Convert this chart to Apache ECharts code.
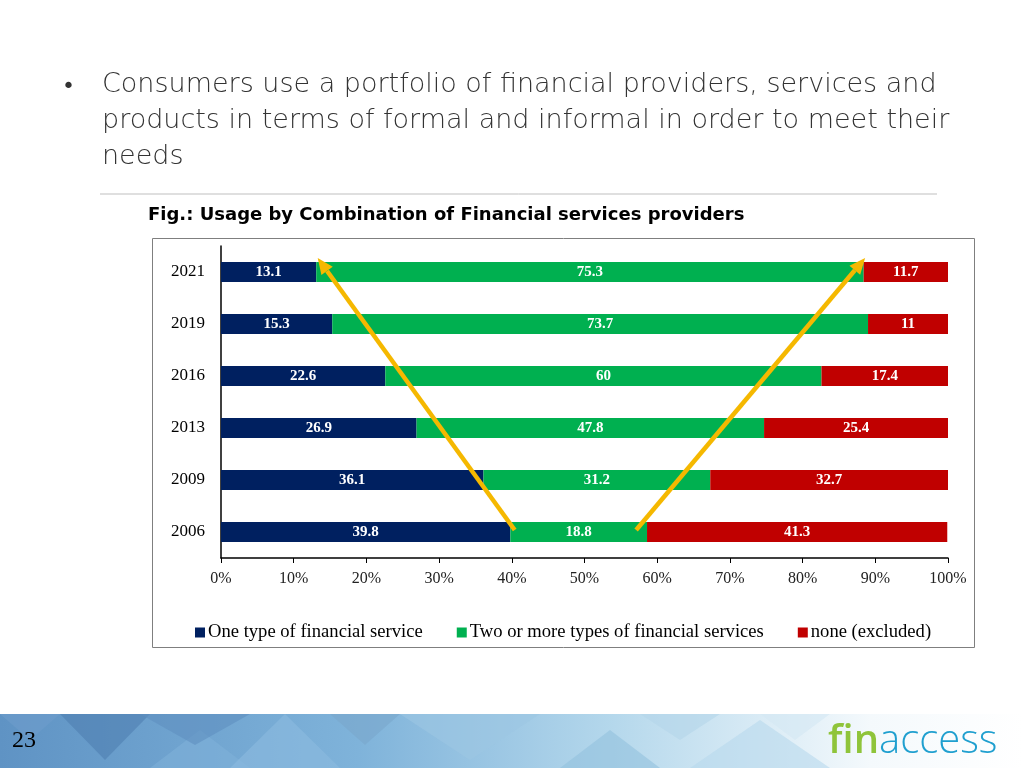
<!DOCTYPE html>
<html>
<head>
<meta charset="utf-8">
<script src="https://cdn.jsdelivr.net/npm/echarts@6/dist/echarts.min.js"></script>
<style>
html,body{margin:0;padding:0;background:#fff;}
#chart{width:1024px;height:768px;}
</style>
</head>
<body>
<div id="chart"></div>
<script>
// ---- data ----
const years = ['2006', '2009', '2013', '2016', '2019', '2021'];
const oneType = [39.8, 36.1, 26.9, 22.6, 15.3, 13.1];
const twoOrMore = [18.8, 31.2, 47.8, 60, 73.7, 75.3];
const noneExcluded = [41.3, 32.7, 25.4, 17.4, 11, 11.7];
const seriesNames = ['One type of financial service', 'Two or more types of financial services', 'none (excluded)'];
const xTicks = [0, 10, 20, 30, 40, 50, 60, 70, 80, 90, 100];
// arrow annotations: [x value, category] from -> to
const arrowFrom = [[40.4, '2006'], [57.1, '2006']];
const arrowTo = [[13.3, '2021'], [88.6, '2021']];

const bulletText = 'Consumers use a portfolio of financial providers, services and\nproducts in terms of formal and informal in order to meet their\nneeds';
const caption = 'Fig.: Usage by Combination of Financial services providers';

const colors = ['#002060', '#00B050', '#C00000'];
const serif = '"Liberation Serif", "Times New Roman", serif';
const gothic = '"DejaVu Sans", sans-serif';

const chart = echarts.init(document.getElementById('chart'), null, {renderer: 'canvas'});

function barSeries(name, data, color) {
  return {
    name: name, type: 'bar', stack: 'total', data: data, barWidth: 20,
    itemStyle: {color: color},
    label: {show: true, position: 'inside', color: '#fff', fontFamily: serif,
      fontSize: 15, fontWeight: 'bold'}
  };
}

// footer decorations
const footerTop = 714, footerBot = 768;
const diamonds = [
  {pts: [[0,714],[60,714],[30,740]], c: '#6e9ccb'},
  {pts: [[60,714],[150,714],[105,760]], c: '#4f7fb0'},
  {pts: [[150,768],[200,730],[250,768]], c: '#7fb1d8'},
  {pts: [[140,714],[250,714],[195,745]], c: '#5f90c0'},
  {pts: [[230,768],[285,714],[340,768]], c: '#8cbbe0'},
  {pts: [[330,714],[400,714],[365,745]], c: '#7aa6cc'},
  {pts: [[400,714],[470,760],[540,714]], c: '#9cc7e3'},
  {pts: [[560,768],[610,730],[660,768]], c: '#93c1de'},
  {pts: [[640,714],[720,714],[680,740]], c: '#b4d6ea'},
  {pts: [[690,768],[760,720],[830,768]], c: '#b8d9ec'},
  {pts: [[760,714],[830,714],[795,740]], c: '#d4e8f3'}
];
const footerGraphics = [
  {type: 'rect', shape: {x: 0, y: footerTop, width: 1024, height: footerBot - footerTop}, silent: true,
   style: {fill: new echarts.graphic.LinearGradient(0, 0, 1, 0, [
     {offset: 0, color: '#5f93c4'}, {offset: 0.35, color: '#7fb3da'},
     {offset: 0.6, color: '#b5d8ec'}, {offset: 0.85, color: '#f4f9fc'}, {offset: 1, color: '#ffffff'}])}}
].concat(diamonds.map(d => ({type: 'polygon', shape: {points: d.pts}, silent: true,
  style: {fill: d.c, opacity: 0.6}})));

const staticGraphics = [
  {type: 'text', left: 62, top: 76, style: {text: '•', fontSize: 22, fill: '#333', fontFamily: gothic}},
  {type: 'text', left: 102, top: 67, style: {text: bulletText, fontSize: 27, lineHeight: 36,
    fill: '#333', fontFamily: gothic, fontWeight: 200}},
  {type: 'line', shape: {x1: 100, y1: 194, x2: 937, y2: 194}, style: {stroke: '#bfbfbf', lineWidth: 1}},
  {type: 'rect', shape: {x: 152.5, y: 238.5, width: 822, height: 409}, z: -1,
   style: {fill: '#fff', stroke: '#7f7f7f', lineWidth: 1}},
  {type: 'text', left: 12, top: 729, style: {text: '23', fontSize: 24, fill: '#000', fontFamily: serif}},
  {type: 'text', left: 828, top: 722, style: {
    rich: {a: {fontSize: 40, fontWeight: 600, fill: '#8fc43a', fontFamily: '"Open Sans", sans-serif'},
           b: {fontSize: 40, fill: '#1f9fcf', fontFamily: '"Open Sans", sans-serif', fontWeight: 300}},
    text: '{a|fin}{b|access}'}}
];

const option = {
  animation: false,
  backgroundColor: '#fff',
  title: {text: caption, left: 143, top: 201,
    textStyle: {fontSize: 18, fontWeight: 'bold', color: '#000', fontFamily: gothic}},
  legend: {data: seriesNames, left: 190, top: 618, icon: 'rect', itemWidth: 10, itemHeight: 10, itemGap: 34,
    textStyle: {fontFamily: serif, fontSize: 18.6, color: '#000', padding: [0, 0, 0, -2]}},
  grid: {left: 221, right: 76, top: 246, bottom: 210, containLabel: false},
  xAxis: {type: 'value', min: xTicks[0], max: xTicks[xTicks.length - 1], interval: xTicks[1] - xTicks[0],
    axisLine: {show: true, lineStyle: {color: '#000', width: 1.5}},
    axisTick: {show: true, length: 5, lineStyle: {color: '#000'}},
    splitLine: {show: false},
    axisLabel: {formatter: '{value}%', fontFamily: serif, fontSize: 16, color: '#222', margin: 13}},
  yAxis: {type: 'category', data: years,
    axisLine: {show: true, lineStyle: {color: '#000', width: 1.5}},
    axisTick: {show: false},
    axisLabel: {fontFamily: serif, fontSize: 17, color: '#000', margin: 16}},
  series: [
    barSeries(seriesNames[0], oneType, colors[0]),
    barSeries(seriesNames[1], twoOrMore, colors[1]),
    barSeries(seriesNames[2], noneExcluded, colors[2])
  ],
  graphic: footerGraphics.concat(staticGraphics)
};
chart.setOption(option);

// arrows computed through the chart's own scales
const arrowColor = '#F5B800';
const arrowGraphics = [];
const tipOffset = -14; // tip sits above the top bar
for (let i = 0; i < arrowFrom.length; i++) {
  const p0 = chart.convertToPixel({gridIndex: 0}, [arrowFrom[i][0], years.indexOf(arrowFrom[i][1])]);
  const p1 = chart.convertToPixel({gridIndex: 0}, [arrowTo[i][0], years.indexOf(arrowTo[i][1])]);
  p0[1] -= 2; p1[1] += tipOffset;
  const dx = p1[0] - p0[0], dy = p1[1] - p0[1];
  const len = Math.sqrt(dx * dx + dy * dy);
  const ux = dx / len, uy = dy / len;
  const headLen = 16, headW = 7;
  const bx = p1[0] - ux * headLen, by = p1[1] - uy * headLen;
  arrowGraphics.push({type: 'line', z: 100, shape: {x1: p0[0], y1: p0[1], x2: bx, y2: by},
    style: {stroke: arrowColor, lineWidth: 4.5}});
  arrowGraphics.push({type: 'polygon', z: 100, shape: {points: [
    [p1[0], p1[1]], [bx - uy * headW, by + ux * headW], [bx + uy * headW, by - ux * headW]]},
    style: {fill: arrowColor}});
}
chart.setOption({graphic: footerGraphics.concat(staticGraphics, arrowGraphics)});
</script>
</body>
</html>
